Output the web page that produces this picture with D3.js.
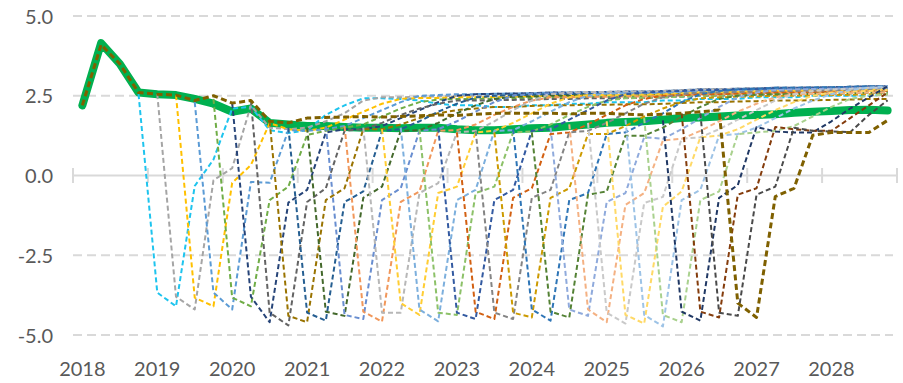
<!DOCTYPE html>
<html><head><meta charset="utf-8">
<script src="https://cdn.jsdelivr.net/npm/d3@7"></script>
<style>body{margin:0;background:#fff}svg{display:block}</style>
</head><body>
<svg id="chart" width="903" height="383"></svg>
<script>
// ---------- DATA ----------
const years = ["2018","2019","2020","2021","2022","2023","2024","2025","2026","2027","2028"];
const quarterNames = ["Q1","Q2","Q3","Q4"];
const yTicks = [5, 2.5, 0, -2.5, -5];
const yTickLabels = ["5.0", "2.5", "0.0", "-2.5", "-5.0"];

// thick green series, 2018Q1 .. 2028Q4
const trend = [2.2,4.15,3.5,2.6, 2.55,2.52,2.4,2.25, 2.0,2.1,1.65,1.6, 1.55,1.55,1.52,1.5,
  1.5,1.48,1.5,1.5, 1.45,1.42,1.42,1.45, 1.48,1.5,1.55,1.6, 1.65,1.68,1.7,1.75,
  1.8,1.82,1.85,1.88, 1.9,1.92,1.97,2.0, 2.02,2.05,2.06,2.04];

// forecast vintages: first quarter + values to 2028Q4
const vintageStart = ["2018Q4","2019Q1","2019Q2","2019Q3","2019Q4","2020Q1","2020Q2","2020Q3",
  "2020Q4","2021Q1","2021Q2","2021Q3","2021Q4","2022Q1","2022Q2","2022Q3",
  "2022Q4","2023Q1","2023Q2","2023Q3","2023Q4","2024Q1","2024Q2","2024Q3",
  "2024Q4","2025Q1","2025Q2","2025Q3","2025Q4","2026Q1","2026Q2","2018Q1"];

const v00 = [2.55,-3.67,-4.1,-0.33,0.5,2.1,2.15,1.42,1.33,1.42,1.9,2.2,2.42,2.42,2.4,2.35,2.25,2.2,2.2,2.15,2.15,2.2,2.2,2.25,2.25,2.3,2.3,2.3,2.35,2.35,2.4,2.4,2.4,2.45,2.45,2.45,2.5,2.5,2.5,2.5,2.55];
const v01 = [2.55,-3.8,-4.2,-0.15,0.23,2.2,1.5,1.45,1.5,1.7,1.95,2.35,2.45,2.45,2.48,2.48,2.5,2.5,2.5,2.52,2.52,2.55,2.55,2.57,2.57,2.58,2.58,2.6,2.62,2.65,2.65,2.67,2.68,2.7,2.7,2.71,2.72,2.73,2.75,2.75];
const v02 = [2.52,-3.83,-4.1,-0.23,0.33,1.64,1.45,1.4,1.5,1.75,2.0,2.25,2.4,2.43,2.43,2.45,2.45,2.46,2.47,2.48,2.5,2.5,2.52,2.52,2.53,2.53,2.55,2.57,2.6,2.6,2.62,2.63,2.65,2.65,2.66,2.67,2.68,2.7,2.7];
const v03 = [2.3,-3.67,-4.2,-0.2,-0.23,1.42,1.4,1.45,1.55,1.8,2.05,2.3,2.5,2.52,2.55,2.55,2.56,2.57,2.58,2.6,2.6,2.62,2.62,2.63,2.63,2.65,2.67,2.7,2.7,2.72,2.73,2.75,2.75,2.76,2.77,2.78,2.8,2.8];
const v04 = [2.4,-3.83,-4.1,-0.77,-0.35,1.27,1.4,1.5,1.6,1.85,2.1,2.3,2.38,2.4,2.4,2.41,2.42,2.43,2.45,2.45,2.47,2.47,2.48,2.48,2.5,2.52,2.55,2.55,2.57,2.58,2.6,2.6,2.61,2.62,2.63,2.65,2.65];
const v05 = [2.27,-3.8,-4.6,-0.85,-0.45,1.35,1.45,1.45,1.55,1.8,2.05,2.3,2.5,2.55,2.56,2.57,2.58,2.6,2.6,2.62,2.62,2.63,2.63,2.65,2.67,2.7,2.7,2.72,2.73,2.75,2.75,2.76,2.77,2.78,2.8,2.8];
const v06 = [2.35,-4.3,-4.7,-0.83,-0.4,1.4,1.45,1.65,1.9,2.1,2.25,2.35,2.35,2.36,2.37,2.38,2.4,2.4,2.42,2.42,2.43,2.43,2.45,2.47,2.5,2.5,2.52,2.53,2.55,2.55,2.56,2.57,2.58,2.6,2.6];
const v07 = [1.7,-4.4,-4.6,-0.77,-0.4,1.45,1.45,1.6,1.8,1.95,2.05,2.1,2.15,2.15,2.18,2.2,2.2,2.22,2.22,2.23,2.23,2.25,2.27,2.3,2.3,2.32,2.33,2.35,2.35,2.36,2.37,2.38,2.4,2.4];
const v08 = [1.5,-4.3,-4.55,-0.83,-0.5,1.4,1.45,1.7,2.0,2.25,2.45,2.5,2.52,2.53,2.55,2.55,2.57,2.57,2.58,2.58,2.6,2.62,2.65,2.65,2.67,2.68,2.7,2.7,2.71,2.72,2.73,2.75,2.75];
const v09 = [1.5,-4.27,-4.4,-0.7,-0.35,1.4,1.42,1.65,1.95,2.2,2.4,2.47,2.48,2.5,2.5,2.52,2.52,2.53,2.53,2.55,2.57,2.6,2.6,2.62,2.63,2.65,2.65,2.66,2.67,2.68,2.7,2.7];
const v10 = [1.55,-4.37,-4.5,-0.77,-0.4,1.4,1.45,1.7,2.0,2.3,2.5,2.56,2.58,2.58,2.6,2.6,2.61,2.61,2.63,2.65,2.68,2.68,2.7,2.71,2.73,2.73,2.74,2.75,2.76,2.78,2.78];
const v11 = [1.55,-4.27,-4.58,-0.83,-0.5,1.4,1.42,1.6,1.9,2.15,2.35,2.45,2.45,2.47,2.47,2.48,2.48,2.5,2.52,2.55,2.55,2.57,2.58,2.6,2.6,2.61,2.62,2.63,2.65,2.65];
const v12 = [1.5,-4.3,-4.3,-0.55,-0.24,1.35,1.4,1.7,2.05,2.35,2.55,2.6,2.62,2.62,2.63,2.63,2.65,2.67,2.7,2.7,2.72,2.73,2.75,2.75,2.76,2.77,2.78,2.8,2.8];
const v13 = [1.45,-4.0,-4.37,-0.55,-0.35,1.35,1.4,1.65,1.95,2.25,2.45,2.52,2.52,2.53,2.53,2.55,2.57,2.6,2.6,2.62,2.63,2.65,2.65,2.66,2.67,2.68,2.7,2.7];
const v14 = [1.5,-4.2,-4.57,-0.77,-0.45,1.4,1.42,1.7,2.0,2.3,2.5,2.57,2.58,2.58,2.6,2.62,2.65,2.65,2.67,2.68,2.7,2.7,2.71,2.72,2.73,2.75,2.75];
const v15 = [1.45,-4.3,-4.37,-0.55,-0.35,1.35,1.38,1.6,1.9,2.15,2.35,2.42,2.43,2.45,2.47,2.5,2.5,2.52,2.53,2.55,2.55,2.56,2.57,2.58,2.6,2.6];
const v16 = [1.5,-4.3,-4.5,-0.77,-0.45,1.4,1.45,1.75,2.05,2.35,2.55,2.6,2.63,2.65,2.68,2.68,2.7,2.71,2.73,2.73,2.74,2.75,2.76,2.78,2.78];
const v17 = [1.35,-4.27,-4.5,-0.7,-0.4,1.3,1.35,1.6,1.9,2.2,2.4,2.5,2.52,2.55,2.55,2.57,2.58,2.6,2.6,2.61,2.62,2.63,2.65,2.65];
const v18 = [1.4,-4.3,-4.5,-0.7,-0.45,1.35,1.4,1.65,1.95,2.25,2.45,2.55,2.6,2.6,2.62,2.63,2.65,2.65,2.66,2.67,2.68,2.7,2.7];
const v19 = [1.35,-4.3,-4.45,-0.7,-0.4,1.3,1.3,1.55,1.85,2.1,2.3,2.42,2.45,2.47,2.48,2.5,2.5,2.51,2.52,2.53,2.55,2.55];
const v20 = [1.45,-4.2,-4.55,-0.77,-0.55,1.3,1.35,1.65,1.95,2.3,2.55,2.65,2.7,2.72,2.75,2.75,2.76,2.77,2.78,2.8,2.8];
const v21 = [1.35,-4.27,-4.45,-0.6,-0.5,1.25,1.25,1.5,1.85,2.15,2.4,2.5,2.53,2.55,2.55,2.56,2.57,2.58,2.6,2.6];
const v22 = [1.5,-4.2,-4.4,-0.83,-0.55,1.2,1.15,1.45,1.8,2.15,2.45,2.6,2.68,2.7,2.71,2.72,2.73,2.75,2.75];
const v23 = [1.6,-4.2,-4.6,-0.92,-0.55,1.1,1.15,1.4,1.7,2.0,2.25,2.45,2.55,2.56,2.57,2.58,2.6,2.6];
const v24 = [1.65,-4.3,-4.64,-0.86,-0.67,1.15,1.2,1.45,1.75,2.05,2.35,2.55,2.65,2.7,2.72,2.75,2.75];
const v25 = [1.7,-4.37,-4.64,-0.98,-0.5,1.2,1.25,1.45,1.75,2.05,2.3,2.5,2.6,2.63,2.65,2.68];
const v26 = [1.75,-4.37,-4.73,-0.77,-0.45,1.25,1.3,1.5,1.8,2.1,2.35,2.55,2.68,2.75,2.8];
const v27 = [1.8,-4.37,-4.6,-0.77,-0.5,1.3,1.35,1.4,1.55,1.85,2.15,2.4,2.5,2.55];
const v28 = [1.73,-4.27,-4.55,-0.7,-0.3,1.52,1.38,1.35,1.35,1.7,2.1,2.45,2.8];
const v29 = [1.95,-4.27,-4.45,-0.6,-0.4,1.52,1.45,1.4,1.4,1.8,2.2,2.6];
const v30 = [1.95,-4.3,-4.4,-0.6,-0.35,1.5,1.4,1.38,1.36,1.9,2.36];
const v31 = [2.2,4.1,3.5,2.6,2.55,2.52,2.35,2.5,2.27,2.35,1.7,1.65,1.8,1.82,1.83,1.85,1.83,1.85,1.87,1.9,
  1.88,1.92,1.95,1.95,1.95,1.95,1.93,1.95,1.95,1.92,1.9,1.92,1.95,2.0,2.05,-4.0,-4.45,-0.66,-0.4,1.26,1.35,1.35,1.35,1.73];

const vintageValues = [v00,v01,v02,v03,v04,v05,v06,v07,v08,v09,v10,v11,v12,v13,v14,v15,
  v16,v17,v18,v19,v20,v21,v22,v23,v24,v25,v26,v27,v28,v29,v30,v31];

// ---------- STYLE ----------
const palette = ["#1EC4EE","#A5A5A5","#FFC000","#5B9BD5","#70AD47","#264478","#636363","#997300",
  "#255E91","#43682B","#698ED0","#F1975A","#B7B7B7","#FFCD33","#7CAFDD","#8CC168",
  "#335AA1","#D26012","#848484","#CC9A00","#2E75B6","#548235","#8FAADC","#F4B183",
  "#C9C9C9","#FFD966","#9DC3E6","#A9D18E","#203864","#843C0C","#4A4A4A","#7F6000"];
const textColor = "#595959", gridColor = "#D9D9D9";
const font = "Lato, 'Open Sans', sans-serif";

// ---------- CHART ----------
const quarters = years.flatMap(y => quarterNames.map(q => y + q));
const svg = d3.select("#chart");
const x = d3.scaleBand().domain(quarters).range([73, 897]).paddingInner(0).paddingOuter(0);
const cx = q => x(q) + x.bandwidth() / 2;
const y = d3.scaleLinear().domain([-5, 5]).range([335, 16]);

// gridlines
svg.append("g").selectAll("line").data(yTicks.filter(t => t !== 0)).join("line")
  .attr("x1", 73).attr("x2", 893).attr("y1", d => y(d)).attr("y2", d => y(d))
  .attr("stroke", gridColor).attr("stroke-width", 2).attr("stroke-dasharray", "9,5");

// zero axis with cross ticks
svg.append("line").attr("x1", 73).attr("x2", 897).attr("y1", y(0)).attr("y2", y(0))
  .attr("stroke", gridColor).attr("stroke-width", 2);
const yearBounds = years.map(yr => yr + "Q1").concat(["end"]);
svg.append("g").selectAll("line").data(yearBounds).join("line")
  .attr("x1", d => d === "end" ? 897 : x(d)).attr("x2", d => d === "end" ? 897 : x(d))
  .attr("y1", y(0) - 7.5).attr("y2", y(0) + 7.5)
  .attr("stroke", gridColor).attr("stroke-width", 2);

// y axis labels
const yAxis = d3.axisLeft(y).tickValues(yTicks).tickFormat((d, i) => yTickLabels[i]).tickSize(0).tickPadding(0);
const ya = svg.append("g").attr("transform", "translate(53,0)").call(yAxis);
ya.select(".domain").remove();
ya.selectAll("text").attr("fill", textColor).style("font-family", font).style("font-size", "20px")
  .attr("dy", "0.36em");

// x axis labels (at first quarter of each year)
const xAxis = d3.axisBottom(x).tickValues(years.map(yr => yr + "Q1"))
  .tickFormat(d => d.slice(0, 4)).tickSize(0).tickPadding(0);
const xa = svg.append("g").attr("transform", "translate(0,362)").call(xAxis);
xa.select(".domain").remove();
xa.selectAll("text").attr("fill", textColor).style("font-family", font).style("font-size", "20px")
  .attr("dy", "0.7em");

// thick green series
const line = d3.line().x(d => cx(d.q)).y(d => y(d.v));
svg.append("path").datum(trend.map((v, i) => ({q: quarters[i], v})))
  .attr("d", line).attr("fill", "none").attr("stroke", "#00B050")
  .attr("stroke-width", 8).attr("stroke-linejoin", "round").attr("stroke-linecap", "round");

// dashed vintages
vintageValues.forEach((vals, k) => {
  const s = quarters.indexOf(vintageStart[k]);
  const pts = vals.map((v, j) => ({q: quarters[s + j], v}));
  const last = k === vintageValues.length - 1;
  svg.append("path").datum(pts).attr("d", line).attr("fill", "none")
    .attr("stroke", palette[k]).attr("stroke-width", last ? 3 : 2)
    .attr("stroke-dasharray", last ? "6,3.5" : "5,3")
    .attr("stroke-linejoin", "round");
});
</script>
</body></html>
